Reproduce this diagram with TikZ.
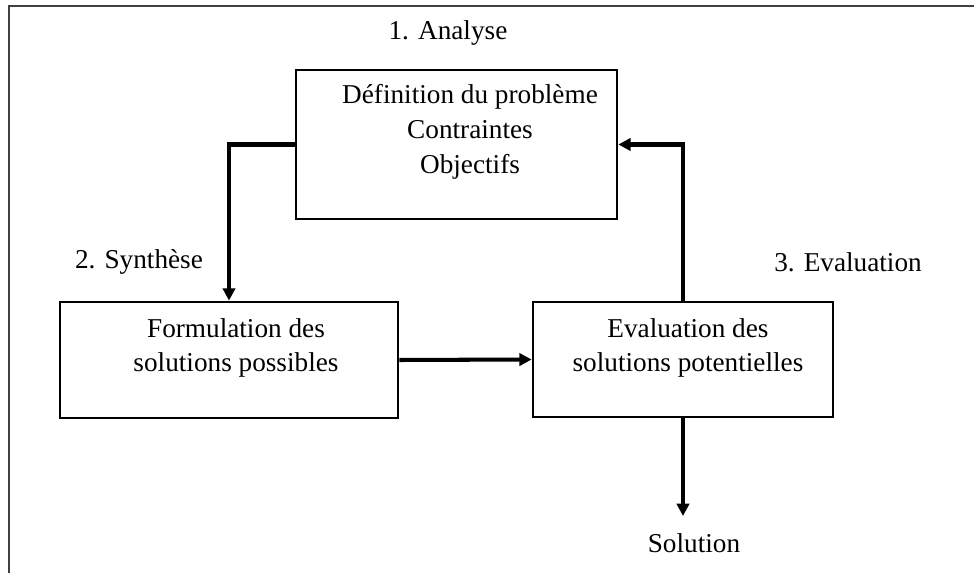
\documentclass[tikz,border=0pt]{standalone}
\usepackage{fontspec}
\setmainfont{Liberation Serif}
\usepackage{xcolor}
\definecolor{framegray}{HTML}{404040}
\usepackage{tikz}
\usetikzlibrary{arrows.meta, positioning, calc}

\begin{document}
\begin{tikzpicture}[x=0.02cm, y=-0.02cm,
    font=\fontsize{15.5}{19.8}\selectfont,
    stagebox/.style={draw, line width=1.6pt, inner sep=0pt},
    boxtext/.style={align=center, inner sep=0pt},
    flow/.style={line width=2.3pt, -{Triangle[length=7pt, width=7pt]}},
    link/.style={line width=2.3pt}]
        \useasboundingbox (0,0) rectangle (974,573);
        % Frame (top and left edges only)
        \draw[framegray, line width=1.1pt] (9,573) -- (9,6) -- (974,6);
        % Stage boxes
        \node[stagebox, minimum width=6.42cm, minimum height=2.98cm]
          (analyse) at (456.5,144.5) {};
        \node[stagebox, minimum width=6.76cm, minimum height=2.32cm]
          (formulation) at (229,360) {};
        \node[stagebox, minimum width=6.0cm, minimum height=2.3cm]
          (evaluation) at (683,359.5) {};
        % Box texts
        \node[boxtext] (analysetxt) at (470,132)
          {Définition du problème\\Contraintes\\Objectifs};
        \node[boxtext] (formulationtxt) at (236,348)
          {Formulation des\\solutions possibles};
        \node[boxtext] (evaluationtxt) at (688,348)
          {Evaluation des\\solutions potentielles};
        % Stage labels
        \node (lbanalyse) at (448,33) {1. Analyse};
        \node (lbsynthese) at (139,262) {2. Synthèse};
        \node (lbevaluation) at (848,262) {3. Evaluation};
        % Connectors
        \draw[flow] (analyse.west) -| (formulation.north);
        \draw[flow] (formulation.east) -- (evaluation.west);
        \draw[flow] (evaluation.north) |- (analyse.east);
        \coordinate (solend) at (683,516);
        \draw[flow] (evaluation.south) -- (solend);
        \node (solution) at (694,543) {Solution};
      \end{tikzpicture}
\end{document}
